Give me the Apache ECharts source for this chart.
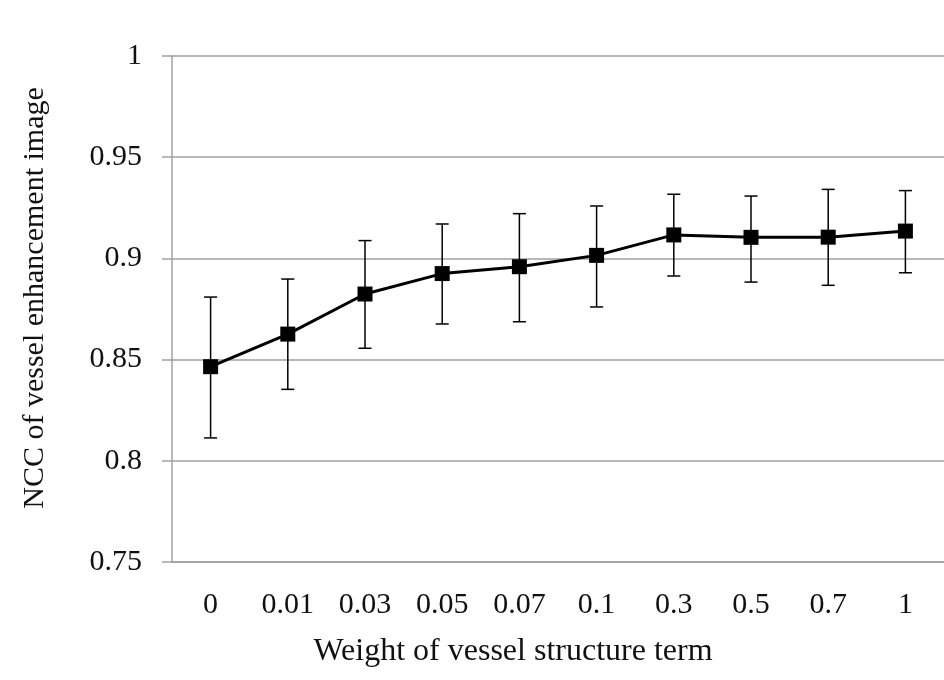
<!DOCTYPE html>
<html>
<head>
<meta charset="utf-8">
<script src="https://cdn.jsdelivr.net/npm/echarts@6/dist/echarts.min.js"></script>
<style>
html, body { margin: 0; padding: 0; background: #fff; }
#container { width: 944px; height: 680px; }
</style>
</head>
<body>
<div id="container"></div>
<script>
// weights
var weights = ['0', '0.01', '0.03', '0.05', '0.07', '0.1', '0.3', '0.5', '0.7', '1'];
// NCC mean
var nccMean = [0.8465, 0.8626, 0.8824, 0.8925, 0.8959, 0.9015, 0.9116, 0.9104, 0.9105, 0.9135];
// error bar ends
var nccUpper = [0.8809, 0.8898, 0.9088, 0.9170, 0.9221, 0.9259, 0.9317, 0.9308, 0.9341, 0.9335];
var nccLower = [0.8113, 0.8353, 0.8556, 0.8676, 0.8687, 0.8760, 0.8913, 0.8883, 0.8867, 0.8929];

var errData = [];
for (var i = 0; i < weights.length; i++) {
    errData.push([i, nccLower[i], nccUpper[i]]);
}

var dom    = document.getElementById("container");
var chart1 = echarts.init(dom);
var font   = '"Liberation Serif", "Times New Roman", serif';
var gray   = '#a0a0a0';

option = {
    backgroundColor: '#fff',
    animation: false,
    grid: {
        left: 172,
        top: 56,
        width: 778,
        height: 506
    },
    xAxis: {
        type: 'category',
        data: weights,
        name: 'Weight of vessel structure term',
        nameLocation: 'middle',
        nameGap: 74,
        // shifted left, like the original layout
        nameTextStyle: { fontFamily: font, fontSize: 32, color: '#111', padding: [0, 90, 0, 0] },
        axisLine: { lineStyle: { color: gray, width: 1.5 } },
        axisTick: { length: 10, lineStyle: { color: gray, width: 1.5 } },
        axisLabel: { fontFamily: font, fontSize: 30, color: '#111', margin: 28 }
    },
    yAxis: {
        type: 'value',
        min: 0.75,
        max: 1,
        interval: 0.05,
        name: 'NCC of vessel enhancement image',
        nameLocation: 'middle',
        nameGap: 122,
        nameTextStyle: { fontFamily: font, fontSize: 30, color: '#111', padding: [0, 0, 0, 22] },
        axisLine: { show: true, lineStyle: { color: gray, width: 1.5 } },
        axisTick: { show: true, length: 10, lineStyle: { color: gray, width: 1.5 } },
        axisLabel: {
            fontFamily: font, fontSize: 30, color: '#111', margin: 30,
            formatter: function (v) { return +v.toFixed(2) + ''; }
        },
        splitLine: { lineStyle: { color: gray, width: 1.5 } }
    },
    series: [
        {
            type: 'custom',
            data: errData,
            z: 2,
            renderItem: function (params, api) {
                var x = api.value(0);
                var lo = api.coord([x, api.value(1)]);
                var hi = api.coord([x, api.value(2)]);
                var w = 6.5;
                var st = { stroke: '#000', lineWidth: 1.5 };
                return {
                    type: 'group',
                    children: [
                        { type: 'line', shape: { x1: hi[0], y1: hi[1], x2: lo[0], y2: lo[1] }, style: st },
                        { type: 'line', shape: { x1: hi[0] - w, y1: hi[1], x2: hi[0] + w, y2: hi[1] }, style: st },
                        { type: 'line', shape: { x1: lo[0] - w, y1: lo[1], x2: lo[0] + w, y2: lo[1] }, style: st }
                    ]
                };
            }
        },
        {
            type: 'line',
            data: nccMean,
            z: 3,
            symbol: 'rect',
            symbolSize: 15,
            lineStyle: { color: '#000', width: 3 },
            itemStyle: { color: '#000' }
        }
    ]
};

chart1.setOption(option, true);
</script>
</body>
</html>
